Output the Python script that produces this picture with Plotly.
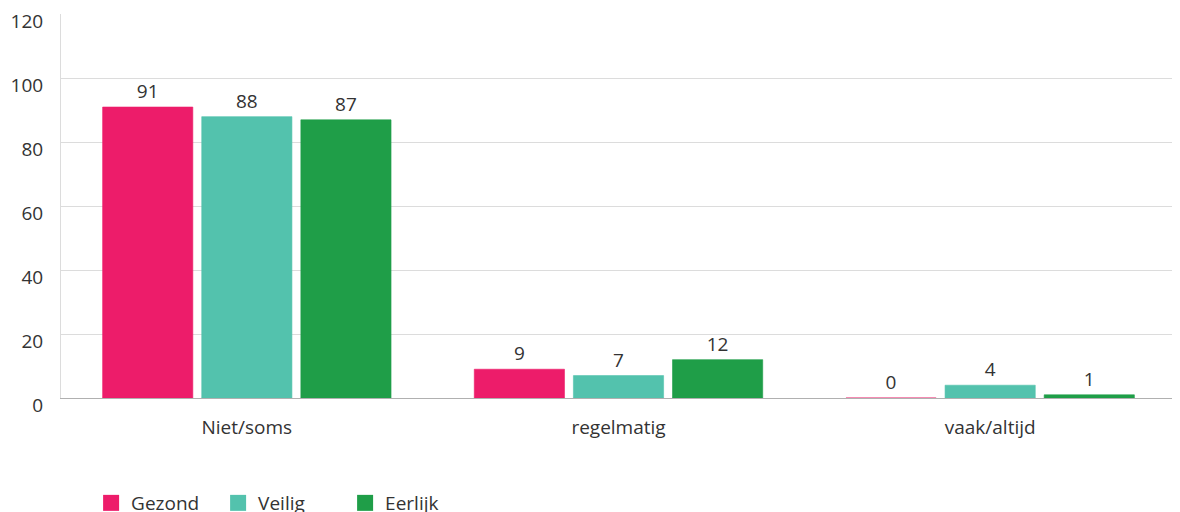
import plotly.graph_objects as go

categories = ["Niet/soms", "regelmatig", "vaak/altijd"]
series_names = ["Gezond", "Veilig", "Eerlijk"]
gezond = [91, 9, 0]
veilig = [88, 7, 4]
eerlijk = [87, 12, 1]
colors = ["#ED1C6A", "#53C2AD", "#1F9E48"]
y_ticks = [0, 20, 40, 60, 80, 100, 120]

FONT = "Open Sans"
TXT = "#333333"
FS = 19

fig = go.Figure()
for name, vals, col in zip(series_names, [gezond, veilig, eerlijk], colors):
    fig.add_trace(go.Bar(
        x=categories, y=vals, name=name, showlegend=False,
        marker=dict(color=col, line=dict(width=0.6, color=col)),
        text=[str(v) for v in vals], textposition="outside",
        textfont=dict(family=FONT, size=FS, color=TXT),
        cliponaxis=False,
    ))
# legend entries with larger square swatches
for name, col in zip(series_names, colors):
    fig.add_trace(go.Scatter(
        x=[None], y=[None], name=name, mode="markers",
        marker=dict(symbol="square", size=16, color=col),
        showlegend=True,
    ))

fig.update_layout(
    width=1172, height=504,
    margin=dict(l=53, r=4, t=6, b=114, autoexpand=False),
    paper_bgcolor="white", plot_bgcolor="white",
    barmode="group", bargap=0.2, bargroupgap=0.09,
    font=dict(family=FONT, size=FS, color=TXT),
    showlegend=True,
    legend=dict(orientation="h", x=0.027, xanchor="left", y=-0.224, yanchor="top",
                font=dict(family=FONT, size=FS, color=TXT),
                entrywidth=82, entrywidthmode="pixels", traceorder="normal"),
    xaxis=dict(showgrid=False, showline=True, linecolor="#b0b0b0", linewidth=1, automargin=False,
               ticks="", ticklabelstandoff=12, tickfont=dict(family=FONT, size=FS, color=TXT)),
    yaxis=dict(range=[0, 120.1], tickvals=y_ticks, showgrid=True, gridcolor="#dcdcdc", gridwidth=1,
               zeroline=False, showline=True, linecolor="#dcdcdc", linewidth=1, automargin=False,
               ticks="", ticklabelstandoff=13, ticklabelshift=7, ticklabeloverflow="allow",
               tickfont=dict(family=FONT, size=FS, color=TXT)),
)

fig.write_html("out.html")
